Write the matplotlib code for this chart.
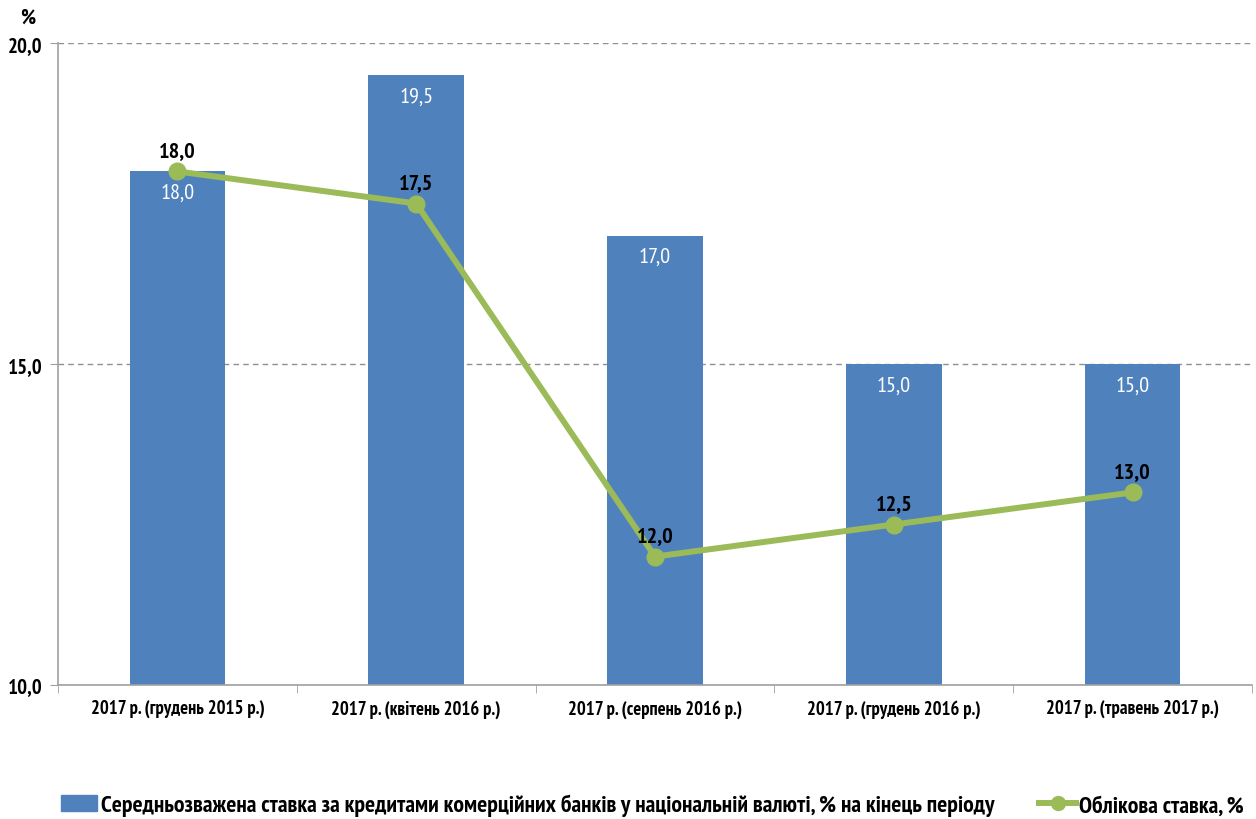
import matplotlib
matplotlib.use("Agg")
import matplotlib.pyplot as plt
from matplotlib.lines import Line2D
from matplotlib.patches import Patch
from matplotlib import font_manager

names = {f.name for f in font_manager.fontManager.ttflist}
narrow = ["Liberation Sans Narrow", "Arial Narrow", "PT Sans Narrow",
          "Roboto Condensed", "Fira Sans Condensed", "Open Sans Condensed"]
picked = [f for f in narrow if f in names][:1]
if picked:
    plt.rcParams["font.family"] = picked + ["DejaVu Sans"]
    k = 1.0
else:
    plt.rcParams["font.family"] = ["Liberation Sans", "DejaVu Sans"]
    k = 0.8

categories = [
    "2017 р. (грудень 2015 р.)",
    "2017 р. (квітень 2016 р.)",
    "2017 р. (серпень 2016 р.)",
    "2017 р. (грудень 2016 р.)",
    "2017 р. (травень 2017 р.)",
]
bar_values = [18.0, 19.5, 17.0, 15.0, 15.0]
line_values = [18.0, 17.5, 12.0, 12.5, 13.0]
bar_name = "Середньозважена ставка за кредитами комерційних банків у національній валюті, % на кінець періоду"
line_name = "Облікова ставка, %"

blue = "#4F81BD"
green = "#9BBB59"


def fmt(v):
    return f"{v:.1f}".replace(".", ",")


fig = plt.figure(figsize=(12.56, 8.2), dpi=100)
ax = fig.add_axes([0.0462, 0.1634, 0.9506, 0.7829])

x = list(range(len(categories)))
ax.bar(x, bar_values, width=0.4, color=blue, zorder=2)
ax.plot(x, line_values, color=green, lw=4.3, marker="o", ms=12, zorder=3)

for xi, v in zip(x, bar_values):
    ax.annotate(fmt(v), (xi, v), xytext=(0, -15), textcoords="offset points",
                ha="center", va="center", color="white", fontsize=16 * k, zorder=4)
for xi, v in zip(x, line_values):
    ax.annotate(fmt(v), (xi, v), xytext=(0, 15), textcoords="offset points",
                ha="center", va="center", color="black", fontsize=16 * k,
                fontweight="bold", zorder=4)

ax.set_xlim(-0.5, len(categories) - 0.5)
ax.set_ylim(10, 20)
ax.set_yticks([10, 15, 20])
ax.set_yticklabels([fmt(t) for t in [10, 15, 20]], fontsize=15 * k, fontweight="bold")
ax.set_xticks(x)
ax.set_xticklabels(categories, fontsize=13.4 * k, fontweight="bold")
ax.tick_params(axis="x", length=0, pad=10)
ax.set_xticks([i + 0.5 for i in range(-1, len(categories))], minor=True)
ax.tick_params(axis="x", which="minor", length=6, color="#A0A0A0")
ax.tick_params(axis="y", length=6, color="#A0A0A0", pad=5)

ax.grid(axis="y", ls=(0, (4, 3)), color="#909090", lw=1, zorder=0)
for s in ["top", "right"]:
    ax.spines[s].set_visible(False)
for s in ["left", "bottom"]:
    ax.spines[s].set_color("#A0A0A0")
    ax.spines[s].set_linewidth(1.2)

fig.text(28 / 1256, 1 - 18 / 820, "%", fontsize=15 * k, fontweight="bold",
         ha="center", va="center")

handles = [
    Patch(color=blue, label=bar_name),
    Line2D([], [], color=green, lw=4.3, marker="o", ms=10, label=line_name),
]
fig.legend(handles=handles, loc="center", bbox_to_anchor=(0.5195, 1 - 806 / 820),
           ncol=2, frameon=False, handlelength=1.55,
           handletextpad=0.15, columnspacing=1.9,
           prop={"weight": "bold", "size": 17 * k})

fig.savefig("out.png", dpi=100)
